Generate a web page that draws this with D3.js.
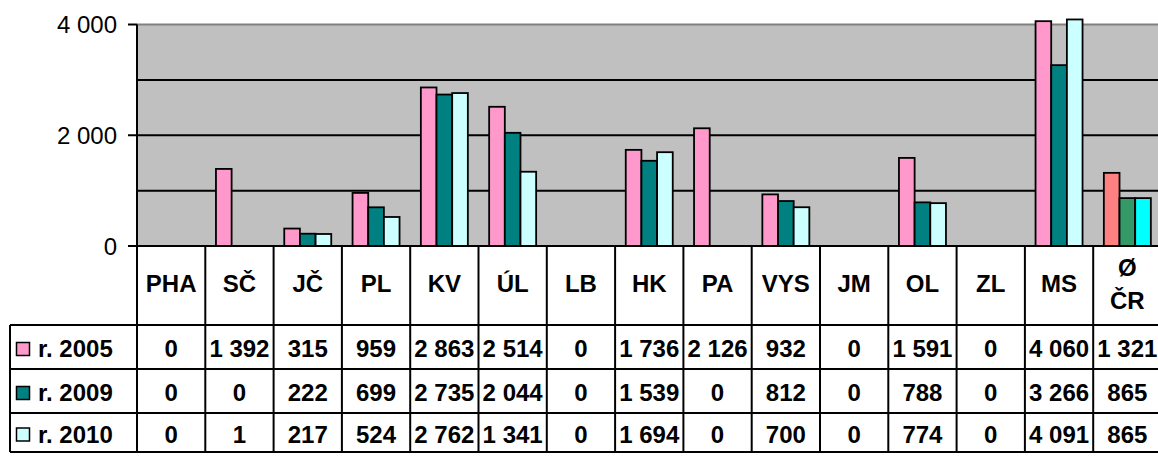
<!DOCTYPE html>
<html>
<head>
<meta charset="utf-8">
<script src="https://cdn.jsdelivr.net/npm/d3@7"></script>
<style>
  body { margin: 0; background: #fff; }
  svg { display: block; font-family: "Liberation Sans", Arial, sans-serif; }
</style>
</head>
<body>
<svg id="chart" width="1158" height="462"></svg>
<script>
// Data
const categories = ["PHA", "SČ", "JČ", "PL", "KV", "ÚL", "LB", "HK", "PA", "VYS", "JM", "OL", "ZL", "MS", "Ø ČR"];
const seriesNames = ["r. 2005", "r. 2009", "r. 2010"];
const values2005 = [0, 1392, 315, 959, 2863, 2514, 0, 1736, 2126, 932, 0, 1591, 0, 4060, 1321];
const values2009 = [0, 0, 222, 699, 2735, 2044, 0, 1539, 0, 812, 0, 788, 0, 3266, 865];
const values2010 = [0, 1, 217, 524, 2762, 1341, 0, 1694, 0, 700, 0, 774, 0, 4091, 865];
const yTicks = [0, 2000, 4000];
const gridTicks = [1000, 2000, 3000];

const seriesValues = [values2005, values2009, values2010];
const colors = ["#FF99CC", "#008080", "#CCFFFF"];
const avgColors = ["#FF8080", "#339966", "#00FFFF"];

// Layout
const svg = d3.select("#chart");
const plotLeft = 137;
const colW = 68.3;
const plotRight = plotLeft + colW * categories.length;
const plotTop = 24.5;
const plotBottom = 246;
const tableLeft = 10;
const rowLines = [325, 369, 413, 452];

const fmt = d3.formatLocale({ decimal: ",", thousands: " ", grouping: [3] }).format(",");

const x = d3.scaleBand()
    .domain(categories)
    .range([plotLeft, plotRight])
    .padding(0);

const xInner = d3.scaleBand()
    .domain(seriesNames)
    .range([0, colW])
    .paddingInner(0)
    .paddingOuter(0.68);

const y = d3.scaleLinear()
    .domain([0, 4000])
    .range([plotBottom, plotTop]);

// Plot background
svg.append("rect")
    .attr("x", plotLeft)
    .attr("y", y(4000))
    .attr("width", plotRight - plotLeft)
    .attr("height", y(0) - y(4000))
    .attr("fill", "#C0C0C0");

// Top border
svg.append("line")
    .attr("x1", plotLeft).attr("x2", plotRight)
    .attr("y1", y(4000)).attr("y2", y(4000))
    .attr("stroke", "#808080").attr("stroke-width", 2);

// Gridlines
svg.append("g").selectAll("line")
    .data(gridTicks)
    .join("line")
    .attr("x1", plotLeft).attr("x2", plotRight)
    .attr("y1", d => y(d)).attr("y2", d => y(d))
    .attr("stroke", "#000").attr("stroke-width", 2);

// Bars
const groups = svg.append("g").selectAll("g")
    .data(categories)
    .join("g")
    .attr("transform", d => `translate(${x(d)},0)`);

groups.selectAll("rect")
    .data((cat, ci) => seriesNames.map((s, si) => ({
        s, v: seriesValues[si][ci],
        color: cat === "Ø ČR" ? avgColors[si] : colors[si]
    })).filter(d => d.v > 0))
    .join("rect")
    .attr("x", d => xInner(d.s))
    .attr("y", d => y(d.v))
    .attr("width", xInner.bandwidth())
    .attr("height", d => y(0) - y(d.v))
    .attr("fill", d => d.color)
    .attr("stroke", "#000")
    .attr("stroke-width", 1.8);

// Y axis
const yAxis = svg.append("g");
yAxis.append("line")
    .attr("x1", plotLeft).attr("x2", plotLeft)
    .attr("y1", y(4000)).attr("y2", rowLines[rowLines.length - 1])
    .attr("stroke", "#000").attr("stroke-width", 2);
yAxis.selectAll(".tick")
    .data(yTicks)
    .join("line")
    .attr("x1", plotLeft - 9).attr("x2", plotLeft)
    .attr("y1", d => y(d)).attr("y2", d => y(d))
    .attr("stroke", "#000").attr("stroke-width", 2);
yAxis.selectAll("text")
    .data(yTicks)
    .join("text")
    .attr("x", 117)
    .attr("y", d => y(d))
    .attr("dy", "0.36em")
    .attr("text-anchor", "end")
    .attr("font-size", "24px")
    .attr("fill", "#000")
    .text(d => fmt(d));

// Zero line
svg.append("line")
    .attr("x1", plotLeft).attr("x2", plotRight)
    .attr("y1", y(0)).attr("y2", y(0))
    .attr("stroke", "#000").attr("stroke-width", 2);

// Data table
const table = svg.append("g");

// vertical lines between categories
table.selectAll(".vline")
    .data(categories)
    .join("line")
    .attr("x1", d => x(d) + colW).attr("x2", d => x(d) + colW)
    .attr("y1", plotBottom).attr("y2", rowLines[rowLines.length - 1])
    .attr("stroke", "#000").attr("stroke-width", 2);

// horizontal lines
table.selectAll(".hline")
    .data(rowLines)
    .join("line")
    .attr("x1", tableLeft).attr("x2", plotRight)
    .attr("y1", d => d).attr("y2", d => d)
    .attr("stroke", "#000").attr("stroke-width", 2);

// left border
table.append("line")
    .attr("x1", tableLeft).attr("x2", tableLeft)
    .attr("y1", rowLines[0]).attr("y2", rowLines[rowLines.length - 1])
    .attr("stroke", "#000").attr("stroke-width", 2);

// category headers
const headerMid = (plotBottom + rowLines[0]) / 2;
table.selectAll(".hdr")
    .data(categories)
    .join("text")
    .attr("x", d => x(d) + colW / 2)
    .attr("y", headerMid)
    .attr("text-anchor", "middle")
    .attr("font-size", "24px")
    .attr("font-weight", "bold")
    .attr("fill", "#000")
    .each(function(d) {
        const parts = d.split(" ");
        const t = d3.select(this);
        parts.forEach((p, i) => {
            t.append("tspan")
                .attr("x", x(d) + colW / 2)
                .attr("y", headerMid + (i - (parts.length - 1) / 2) * 33 - 2)
                .attr("dy", "0.36em")
                .text(p);
        });
    });

// value rows
seriesNames.forEach((s, si) => {
    const mid = (rowLines[si] + rowLines[si + 1]) / 2 + 1.5;
    const row = table.append("g");
    row.append("rect")
        .attr("x", 16.5).attr("y", mid - 6)
        .attr("width", 13).attr("height", 13)
        .attr("fill", colors[si])
        .attr("stroke", "#000").attr("stroke-width", 1.5);
    row.append("text")
        .attr("x", 38).attr("y", mid)
        .attr("dy", "0.36em")
        .attr("font-size", "24px")
        .attr("font-weight", "bold")
        .attr("fill", "#000")
        .text(s);
    row.selectAll(".val")
        .data(categories)
        .join("text")
        .attr("x", d => x(d) + colW / 2)
        .attr("y", mid)
        .attr("dy", "0.36em")
        .attr("text-anchor", "middle")
        .attr("font-size", "24px")
        .attr("font-weight", "bold")
        .attr("fill", "#000")
        .text((d, ci) => fmt(seriesValues[si][ci]));
});
</script>
</body>
</html>
